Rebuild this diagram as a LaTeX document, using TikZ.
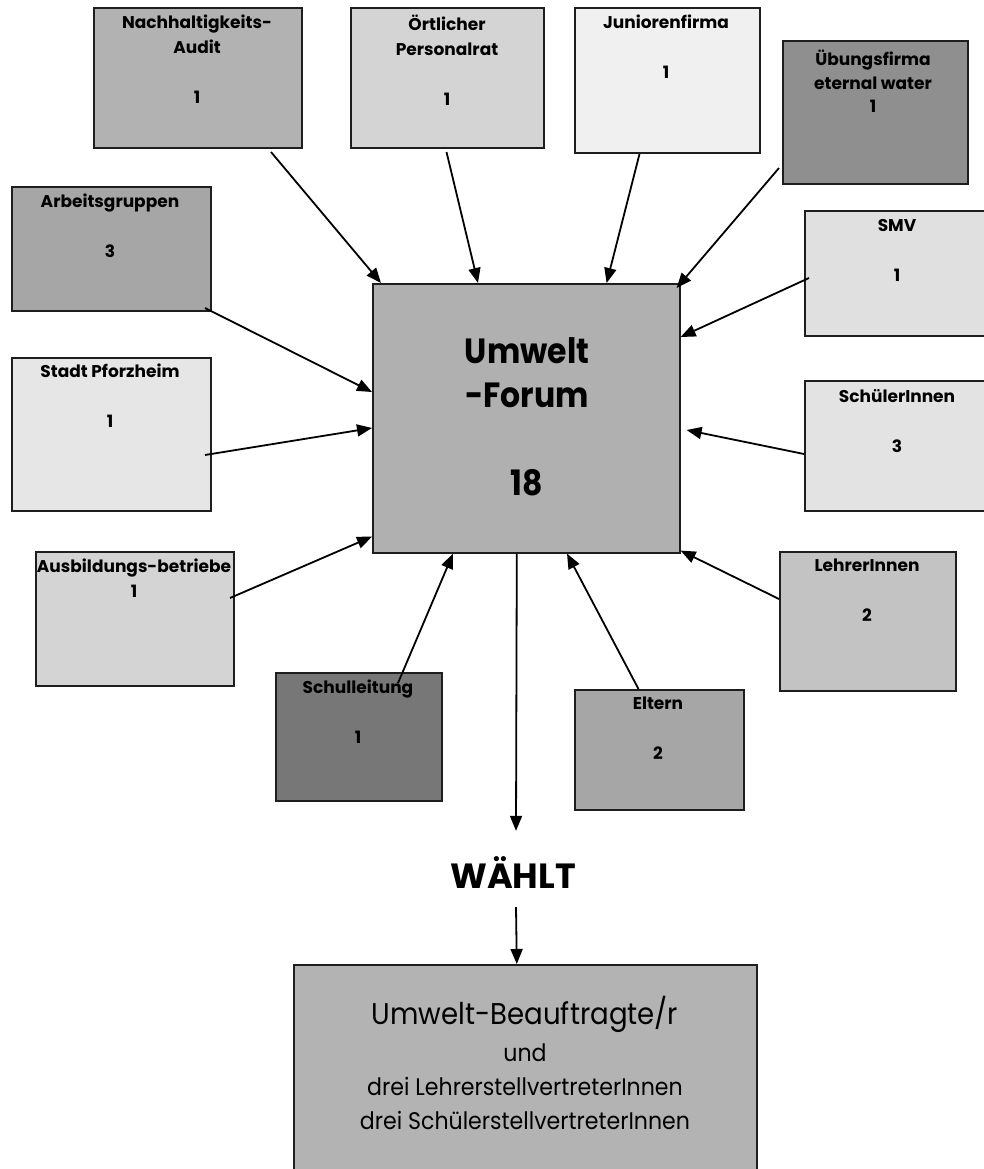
\documentclass[tikz,border=0pt]{standalone}
\usepackage{fontspec}
\setmainfont{Poppins}
\newfontfamily\forumfont[FakeStretch=0.9]{Poppins}
\newfontfamily\bottomfont[FakeStretch=0.92]{Poppins}
\usetikzlibrary{arrows.meta}
\definecolor{edge}{HTML}{1E1E1E}
\definecolor{cNach}{HTML}{B2B2B2}
\definecolor{cOert}{HTML}{D4D4D4}
\definecolor{cJun}{HTML}{F0F0F0}
\definecolor{cUeb}{HTML}{8F8F8F}
\definecolor{cArb}{HTML}{A6A6A6}
\definecolor{cSmv}{HTML}{E0E0E0}
\definecolor{cStadt}{HTML}{E6E6E6}
\definecolor{cSchuel}{HTML}{E3E3E3}
\definecolor{cAusb}{HTML}{D4D4D4}
\definecolor{cLehr}{HTML}{C3C3C3}
\definecolor{cSchull}{HTML}{777777}
\definecolor{cEltern}{HTML}{A6A6A6}
\definecolor{cForum}{HTML}{B0B0B0}
\definecolor{cBottom}{HTML}{B3B3B3}
\begin{document}
\begin{tikzpicture}[x=1pt,y=-1pt,
  box/.style={draw=edge,line width=2pt,anchor=north west,inner sep=0pt},
  lbl/.style={anchor=north,inner sep=0pt,align=center,font=\bfseries\fontsize{17}{25}\selectfont},
  big/.style={inner sep=0pt,align=center,font=\bfseries\fontsize{35}{44}\selectfont},
  arr/.style={line width=1.8pt,-{Triangle[length=15pt,width=12pt]}}]
\useasboundingbox (0,0) rectangle (983,1169);
% boxes
\node[box,fill=cNach,minimum width=208pt,minimum height=140pt] (nach) at (93,7) {};
\node[box,fill=cOert,minimum width=193pt,minimum height=140pt] (oert) at (350,7) {};
\node[box,fill=cJun,minimum width=185pt,minimum height=145pt] (jun) at (574,7) {};
\node[box,fill=cUeb,minimum width=185pt,minimum height=143pt] (ueb) at (782,40) {};
\node[box,fill=cArb,minimum width=199pt,minimum height=124pt] (arb) at (11,186) {};
\node[box,fill=cSmv,minimum width=190pt,minimum height=125pt] (smv) at (804,210) {};
\node[box,fill=cStadt,minimum width=199pt,minimum height=153pt] (stadt) at (11,357) {};
\node[box,fill=cSchuel,minimum width=190pt,minimum height=130pt] (schuel) at (804,380) {};
\node[box,fill=cAusb,minimum width=198pt,minimum height=134pt] (ausb) at (35,551) {};
\node[box,fill=cLehr,minimum width=176pt,minimum height=139pt] (lehr) at (779,551) {};
\node[box,fill=cSchull,minimum width=166pt,minimum height=128pt] (schull) at (275,672) {};
\node[box,fill=cEltern,minimum width=169pt,minimum height=120pt] (eltern) at (574,689) {};
\node[box,line width=1.6pt,fill=cForum,minimum width=307pt,minimum height=269pt] (forum) at (372,283) {};
\node[box,line width=1.6pt,fill=cBottom,minimum width=463pt,minimum height=220pt] (bottom) at (293,964) {};
% labels
\node[lbl] (nach-t) at (197,15) {Nachhaltigkeits-\\Audit\\ \\1};
\node[lbl] (oert-t) at (447,15) {Örtlicher\\Personalrat\\ \\1};
\node[lbl] (jun-t) at (666,15) {Juniorenfirma\\ \\1};
\node[lbl,font=\bfseries\fontsize{17}{23.5}\selectfont] (ueb-t) at (873,50) {Übungsfirma\\eternal water\\1};
\node[lbl] (arb-t) at (110,194) {Arbeitsgruppen\\ \\3};
\node[lbl] (smv-t) at (897,219) {SMV\\ \\1};
\node[lbl] (stadt-t) at (110,364) {Stadt Pforzheim\\ \\1};
\node[lbl] (schuel-t) at (897,389) {SchülerInnen\\ \\3};
\node[lbl] (ausb-t) at (134,559) {Ausbildungs-betriebe\\1};
\node[lbl] (lehr-t) at (867,559) {LehrerInnen\\ \\2};
\node[lbl] (schull-t) at (358,680) {Schulleitung\\ \\1};
\node[lbl] (eltern-t) at (658,697) {Eltern\\ \\2};
\node[big,anchor=north,font=\forumfont\bfseries\fontsize{35}{44}\selectfont] (forum-t) at (527,337) {Umwelt\\-Forum\\ \\18};
\node[big,anchor=base] (waehlt) at (513,888) {WÄHLT};
\node[anchor=north,inner sep=0pt,align=center,font=\bottomfont\fontsize{24}{34}\selectfont] (bottom-t) at (525,996)
  {{\fontsize{30}{37}\selectfont Umwelt-Beauftragte/r}\\[3pt]und\\drei LehrerstellvertreterInnen\\drei SchülerstellvertreterInnen};
% connectors
\draw[arr] ([xshift=73pt,yshift=-3pt]nach.south) -- ([xshift=9pt]forum.north west);
\draw[arr] ([xshift=-1pt,yshift=-3pt]oert.south) -- ([xshift=106pt]forum.north west);
\draw[arr] ([xshift=-28pt]jun.south) -- ([xshift=-74pt]forum.north east);
\draw[arr] ([xshift=-3pt,yshift=-55.5pt]ueb.west) -- ([xshift=-4pt,yshift=-5pt]forum.north east);
\draw[arr] ([xshift=5pt,yshift=-4.5pt]smv.west) -- ([yshift=-54pt]forum.north east);
\draw[arr] ([yshift=-8pt]schuel.west) -- ([xshift=6pt,yshift=-147pt]forum.north east);
\draw[arr] ([yshift=22.5pt]lehr.west) -- ([yshift=3pt]forum.south east);
\draw[arr] ([xshift=-21pt]eltern.north) -- ([xshift=195pt]forum.south west);
\draw[arr] ([xshift=39pt,yshift=-11pt]schull.north) -- ([xshift=81pt]forum.south west);
\draw[arr] ([xshift=-5pt,yshift=21pt]ausb.east) -- ([yshift=17pt]forum.south west);
\draw[arr] ([xshift=-7pt,yshift=-59pt]arb.east) -- ([yshift=-109pt]forum.north west);
\draw[arr] ([xshift=-7pt,yshift=-20.5pt]stadt.east) -- ([yshift=-145pt]forum.north west);
\draw[arr] ([xshift=-9.5pt]forum.south) -- ([xshift=3pt,yshift=25pt]waehlt.north);
\draw[arr] ([xshift=3pt,yshift=-19pt]waehlt.south) -- ([xshift=-8.5pt]bottom.north);
\end{tikzpicture}
\end{document}
